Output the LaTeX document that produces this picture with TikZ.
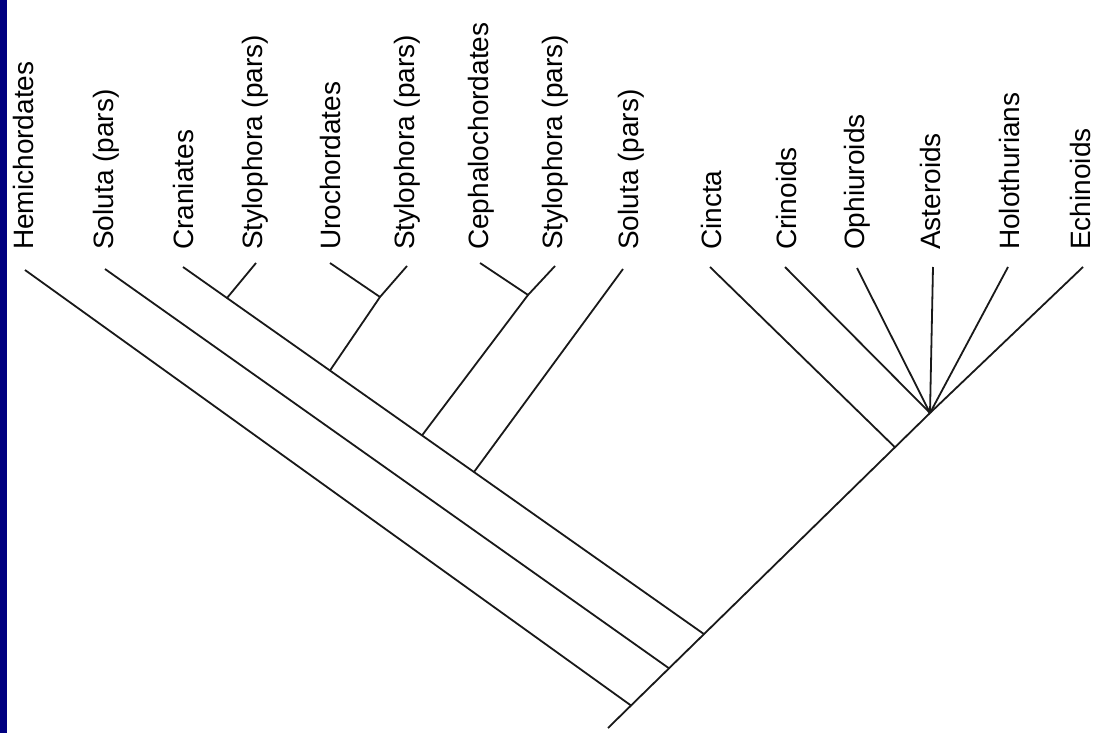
\documentclass[tikz,border=0pt]{standalone}
\usepackage{fontspec}
\setmainfont{Liberation Sans}
\begin{document}
\begin{tikzpicture}[x=1pt,y=-1pt,
  lab/.style={rotate=90,anchor=base west,inner sep=0pt,font=\fontsize{28}{30}\selectfont},
  branch/.style={line width=1.8pt,black!90}]
\useasboundingbox (0,0) rectangle (1095,733);
\fill[white] (0,0) rectangle (1095,733);
\fill[blue!50!black] (0,0) rectangle (7,733);
% tips
\coordinate (hemi) at (25,270);
\coordinate (sol1) at (105,269);
\coordinate (cran) at (183,267);
\coordinate (sty1) at (256,263);
\coordinate (uro)  at (330,263);
\coordinate (sty2) at (407,266);
\coordinate (ceph) at (480,263);
\coordinate (sty3) at (555,266);
\coordinate (sol2) at (623,269);
\coordinate (cin)  at (710,267);
\coordinate (cri)  at (785,267);
\coordinate (oph)  at (857,268);
\coordinate (ast)  at (933,267);
\coordinate (hol)  at (1008,267);
\coordinate (ech)  at (1083,267);
% internal nodes
\coordinate (j1) at (227,298);
\coordinate (j2) at (380,297);
\coordinate (j3) at (528,295);
\coordinate (k2) at (330,370.5);
\coordinate (k3) at (422,435.4);
\coordinate (k4) at (474,472);
\coordinate (r1) at (631,705.5);
\coordinate (r2) at (669,668.3);
\coordinate (r3) at (704,634.1);
\coordinate (base) at (608,728);
\coordinate (cinN) at (895,447.3);
\coordinate (crown) at (930,413);
% labels
\node[lab] (Lhemi) at (33,250) {Hemichordates};
\node[lab] (Lsol1) at (113,250) {Soluta (pars)};
\node[lab] (Lcran) at (193,250) {Craniates};
\node[lab] (Lsty1) at (262,250) {Stylophora (pars)};
\node[lab] (Luro)  at (340,250) {Urochordates};
\node[lab] (Lsty2) at (414,250) {Stylophora (pars)};
\node[lab] (Lceph) at (488,250) {Cephalochordates};
\node[lab] (Lsty3) at (562,250) {Stylophora (pars)};
\node[lab] (Lsol2) at (638,250) {Soluta (pars)};
\node[lab] (Lcin)  at (721,250) {Cincta};
\node[lab] (Lcri)  at (796,250) {Crinoids};
\node[lab] (Loph)  at (864,250) {Ophiuroids};
\node[lab] (Last)  at (940,250) {Asteroids};
\node[lab] (Lhol)  at (1019,250) {Holothurians};
\node[lab] (Lech)  at (1090,250) {Echinoids};
% branches
\draw[branch] (base) -- (crown);
\draw[branch] (hemi) -- (r1);
\draw[branch] (sol1) -- (r2);
\draw[branch] (cran) -- (r3);
\draw[branch] (sty1) -- (j1);
\draw[branch] (uro) -- (j2);
\draw[branch] (sty2) -- (j2) -- (k2);
\draw[branch] (ceph) -- (j3);
\draw[branch] (sty3) -- (j3) -- (k3);
\draw[branch] (sol2) -- (k4);
\draw[branch] (cin) -- (cinN);
\draw[branch] (cri) -- (crown);
\draw[branch] (oph) -- (crown);
\draw[branch] (ast) -- (crown);
\draw[branch] (hol) -- (crown);
\draw[branch] (ech) -- (crown);
\end{tikzpicture}
\end{document}
